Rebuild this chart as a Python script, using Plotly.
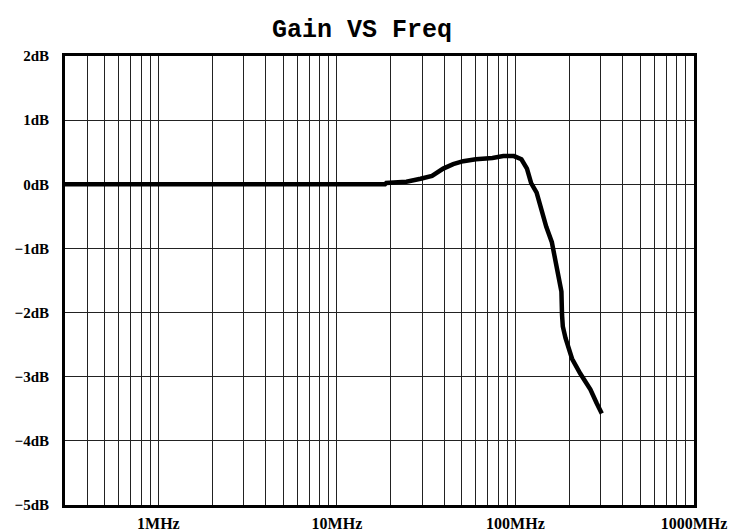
import plotly.graph_objects as go

# Curve (frequency in MHz, gain in dB)
freq_mhz = [0.3, 1, 5, 10, 18.6, 18.9, 24.5, 29.4, 34.1, 39.4, 44.8, 51, 60, 74.3, 85.5, 98.1,
            108, 116, 122.4, 131.4, 138.6, 148.8, 159.9, 165.6, 171.5, 180.9, 182.3, 184.2,
            190.8, 199.5, 207.5, 230.6, 263, 284.7, 304.4]
gain_db = [0.0, 0.0, 0.0, 0.0, 0.0, 0.02, 0.04, 0.086, 0.13, 0.245, 0.314, 0.36, 0.39, 0.41, 0.44, 0.44,
           0.39, 0.245, 0.017, -0.13, -0.372, -0.662, -0.903, -1.104, -1.362, -1.673, -2.033, -2.216,
           -2.40, -2.56, -2.72, -2.95, -3.20, -3.41, -3.575]

# Axis grid / tick labels
x_grid_vals = [0.4, 0.5, 0.6, 0.7, 0.8, 0.9, 1, 2, 3, 4, 5, 6, 7, 8, 9, 10,
               20, 30, 40, 50, 60, 70, 80, 90, 100, 200, 300, 400, 500, 600, 700, 800, 900, 1000]
x_labels = {1: "1MHz", 10: "10MHz", 100: "100MHz", 1000: "1000MHz"}
x_grid_text = [x_labels.get(v, "") for v in x_grid_vals]
y_vals = [-5, -4, -3, -2, -1, 0, 1, 2]
y_text = ["\u22125dB", "\u22124dB", "\u22123dB", "\u22122dB", "\u22121dB", "0dB", "1dB", "2dB"]

W, H = 733, 524  # page body adds an 8px margin

fig = go.Figure()
fig.add_trace(go.Scatter(x=freq_mhz, y=gain_db, mode="lines",
                         line=dict(color="black", width=4.5), showlegend=False))

fig.update_layout(
    width=W, height=H,
    margin=dict(l=57, r=47, t=48, b=27, autoexpand=False),
    paper_bgcolor="white", plot_bgcolor="white",
    title=dict(text="Gain VS Freq", x=354 / W, xref="container", xanchor="center",
               y=1 - 20 / H, yref="container", yanchor="middle", automargin=False,
               font=dict(family="Liberation Mono", size=25, color="black", weight="bold")),
)
fig.update_xaxes(type="log", range=[-0.5229, 3], tickvals=x_grid_vals, ticktext=x_grid_text,
                 showgrid=True, gridcolor="#222222", gridwidth=1, ticks="", automargin=False,
                 ticklabelstandoff=2,
                 showline=True, linecolor="black", linewidth=3, mirror=True,
                 tickfont=dict(family="Liberation Serif", size=16, color="black", weight="bold"))
fig.update_yaxes(range=[-5, 2], tickvals=y_vals, ticktext=y_text,
                 showgrid=True, gridcolor="#222222", gridwidth=1, zeroline=False, ticks="",
                 ticklabelstandoff=10, automargin=False,
                 showline=True, linecolor="black", linewidth=3, mirror=True,
                 tickfont=dict(family="Liberation Serif", size=15, color="black", weight="bold"))

fig.write_html("out.html")
